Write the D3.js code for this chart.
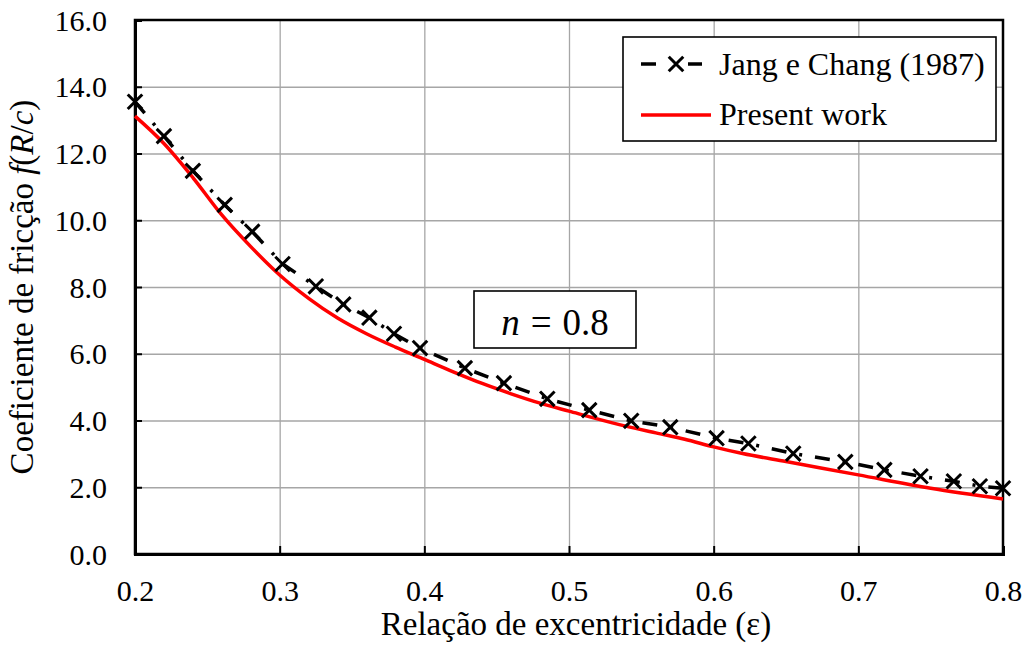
<!DOCTYPE html>
<html>
<head>
<meta charset="utf-8">
<script src="https://cdn.jsdelivr.net/npm/d3@7"></script>
<style>
  html, body { margin: 0; padding: 0; background: #fff; }
  svg text { font-family: "Liberation Serif", "Times New Roman", serif; fill: #000; }
</style>
</head>
<body>
<svg id="chart" width="1028" height="645"></svg>
<script>
// Friction coefficient f(R/c) vs eccentricity ratio, n = 0.8
const jangX = [0.200, 0.220, 0.240, 0.262, 0.281, 0.302, 0.325, 0.344, 0.362, 0.379, 0.397, 0.428, 0.455,
               0.485, 0.514, 0.543, 0.570, 0.602, 0.624, 0.655, 0.691, 0.718, 0.743, 0.766, 0.784, 0.800];
const jangY = [13.55, 12.52, 11.48, 10.46, 9.66, 8.69, 8.02, 7.48, 7.08, 6.60, 6.17, 5.57, 5.12,
               4.65, 4.31, 3.99, 3.80, 3.47, 3.31, 3.01, 2.76, 2.52, 2.33, 2.18, 2.03, 1.97];

const presentX = [0.20, 0.22, 0.24, 0.26, 0.28, 0.30, 0.32, 0.34, 0.36, 0.38, 0.40, 0.42, 0.44,
                  0.46, 0.48, 0.50, 0.53, 0.56, 0.58, 0.60, 0.62, 0.65, 0.70, 0.75, 0.80];
const presentY = [13.12, 12.30, 11.28, 10.16, 9.21, 8.36, 7.66, 7.07, 6.60, 6.20, 5.83, 5.46, 5.11,
                  4.80, 4.52, 4.28, 3.93, 3.63, 3.44, 3.21, 3.01, 2.77, 2.37, 1.97, 1.65];

const xTicks = [0.2, 0.3, 0.4, 0.5, 0.6, 0.7, 0.8];
const yTicks = [0, 2, 4, 6, 8, 10, 12, 14, 16];
const seriesNames = ["Jang e Chang (1987)", "Present work"];
const annotation = "0.8";

const SERIF = '"Liberation Serif", "Times New Roman", serif';

const svg = d3.select("#chart");
const plotL = 135, plotR = 1003, plotT = 20, plotB = 554;
const W = plotR - plotL, H = plotB - plotT;

const x = d3.scaleLinear().domain([0.2, 0.8]).range([plotL, plotR]);
const y = d3.scaleLinear().domain([0, 16]).range([plotB, plotT]);

// grid
const grid = svg.append("g").attr("class", "grid");
grid.append("g")
  .attr("transform", `translate(0,${plotB})`)
  .call(d3.axisBottom(x).tickValues(xTicks.slice(1, -1)).tickSize(-H).tickFormat(""))
  .call(g => g.select(".domain").remove())
  .call(g => g.selectAll("line").attr("stroke", "#a6a6a6").attr("stroke-width", 1.3));
grid.append("g")
  .attr("transform", `translate(${plotL},0)`)
  .call(d3.axisLeft(y).tickValues(yTicks.slice(1, -1)).tickSize(-W).tickFormat(""))
  .call(g => g.select(".domain").remove())
  .call(g => g.selectAll("line").attr("stroke", "#a6a6a6").attr("stroke-width", 1.3));

// frame
svg.append("rect")
  .attr("x", plotL).attr("y", plotT).attr("width", W).attr("height", H)
  .attr("fill", "none").attr("stroke", "#000").attr("stroke-width", 2.5);

// axes with inward ticks
const xAxis = svg.append("g")
  .attr("transform", `translate(0,${plotB})`)
  .call(d3.axisBottom(x).tickValues(xTicks).tickSize(-8).tickPadding(26).tickFormat(d3.format(".1f")))
  .attr("font-family", null).attr("font-size", null);
xAxis.select(".domain").attr("stroke-width", 3);
xAxis.selectAll(".tick line").attr("stroke-width", 2);
xAxis.selectAll(".tick text").style("font-family", SERIF).style("font-size", "30px");

const yAxis = svg.append("g")
  .attr("transform", `translate(${plotL},0)`)
  .call(d3.axisLeft(y).tickValues(yTicks).tickSize(-7).tickPadding(28).tickFormat(d3.format(".1f")))
  .attr("font-family", null).attr("font-size", null);
yAxis.select(".domain").attr("stroke-width", 3);
yAxis.selectAll(".tick line").attr("stroke-width", 2);
yAxis.selectAll(".tick text").style("font-family", SERIF).style("font-size", "30px").attr("dy", "0.34em");

// series
const jang = jangX.map((v, i) => [v, jangY[i]]);
const present = presentX.map((v, i) => [v, presentY[i]]);

const dashDot = "15,13,3,13";

svg.append("path")
  .datum(present)
  .attr("fill", "none").attr("stroke", "#ff0000").attr("stroke-width", 3.5)
  .attr("d", d3.line().x(d => x(d[0])).y(d => y(d[1])).curve(d3.curveMonotoneX));

svg.append("path")
  .datum(jang)
  .attr("fill", "none").attr("stroke", "#000").attr("stroke-width", 3.5)
  .attr("stroke-dasharray", dashDot)
  .attr("d", d3.line().x(d => x(d[0])).y(d => y(d[1])));

const cross = d3.symbol().type(d3.symbolX).size(140);
svg.append("g").selectAll("path")
  .data(jang).join("path")
  .attr("transform", d => `translate(${x(d[0])},${y(d[1])})`)
  .attr("d", cross)
  .attr("fill", "none").attr("stroke", "#000").attr("stroke-width", 3);

// legend
const lg = svg.append("g");
lg.append("rect").attr("x", 623).attr("y", 37).attr("width", 373).attr("height", 104)
  .attr("fill", "#fff").attr("stroke", "#000").attr("stroke-width", 1.6);
lg.append("line").attr("x1", 641).attr("x2", 702).attr("y1", 64).attr("y2", 64)
  .attr("stroke", "#000").attr("stroke-width", 3.5).attr("stroke-dasharray", "15,16,0,16");
lg.append("path").attr("transform", "translate(676,64)").attr("d", cross)
  .attr("fill", "none").attr("stroke", "#000").attr("stroke-width", 3);
lg.append("line").attr("x1", 641).attr("x2", 711).attr("y1", 115).attr("y2", 115)
  .attr("stroke", "#ff0000").attr("stroke-width", 3.5);
lg.append("text").attr("x", 719).attr("y", 75).style("font-family", SERIF).style("font-size", "32px").text(seriesNames[0]);
lg.append("text").attr("x", 719).attr("y", 125).style("font-family", SERIF).style("font-size", "32px").text(seriesNames[1]);

// n = 0.8 annotation box
const ab = svg.append("g");
ab.append("rect").attr("x", 474).attr("y", 291).attr("width", 162).attr("height", 57)
  .attr("fill", "#fff").attr("stroke", "#000").attr("stroke-width", 1.6);
const at = ab.append("text").attr("x", 555).attr("y", 335).attr("text-anchor", "middle")
  .style("font-family", SERIF).style("font-size", "37px");
at.append("tspan").attr("font-style", "italic").text("n");
at.append("tspan").attr("dx", 11).text("=");
at.append("tspan").attr("dx", 11).text(annotation);

// axis titles
svg.append("text")
  .attr("x", 576).attr("y", 635).attr("text-anchor", "middle")
  .style("font-family", SERIF).style("font-size", "33px")
  .text("Relação de excentricidade (ε)");

const yt = svg.append("text")
  .attr("transform", `translate(33,${(plotT + plotB) / 2}) rotate(-90)`)
  .attr("text-anchor", "middle")
  .style("font-family", SERIF).style("font-size", "33px");
yt.append("tspan").text("Coeficiente de fricção ");
yt.append("tspan").attr("font-style", "italic").text("f");
yt.append("tspan").text("(");
yt.append("tspan").attr("font-style", "italic").text("R");
yt.append("tspan").text("/");
yt.append("tspan").attr("font-style", "italic").text("c");
yt.append("tspan").text(")");
</script>
</body>
</html>
